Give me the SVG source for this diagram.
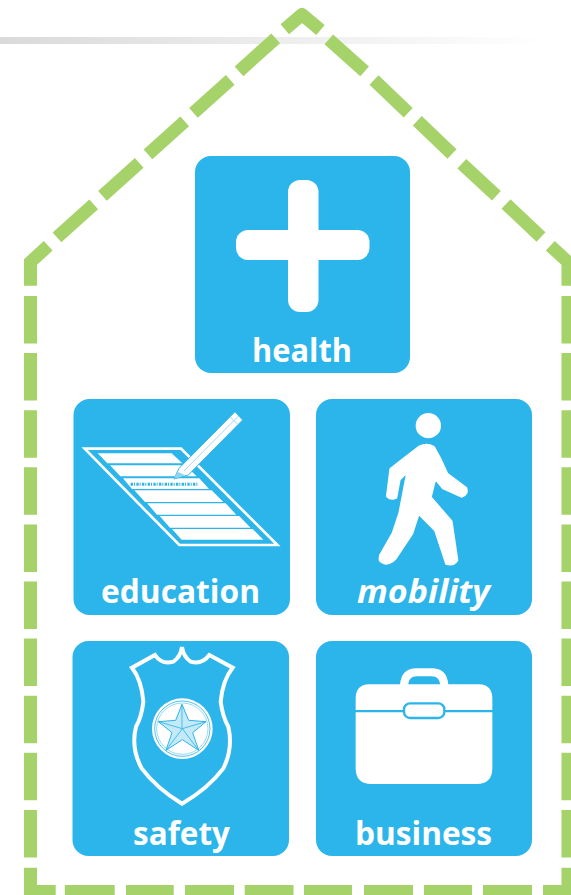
<svg xmlns="http://www.w3.org/2000/svg" width="571" height="895" viewBox="0 0 571 895">
<style>
.tile{fill:#2cb5ea}
.lbl{font-family:"Open Sans","Noto Sans",sans-serif;font-weight:700;fill:#fff}
.w{fill:#fff}
.dash{fill:none;stroke:#a6d26a;stroke-width:13;stroke-linejoin:miter}
.bl{fill:none;stroke:#2cb5ea}
</style>
<defs>
<linearGradient id="bar" x1="0" x2="1" y1="0" y2="0"><stop offset="0" stop-color="#dadada"/><stop offset="1" stop-color="#fff"/></linearGradient>
</defs>
<rect width="571" height="895" fill="#fff"/>
<rect id="top-bar" x="0" y="37" width="546" height="7" fill="url(#bar)"/>
<g id="house-outline">
<path class="dash" style="stroke-linejoin:round" d="M284.8 29.3L302 14.5L320.5 30"/>
<path class="dash" d="M275.7 38.3L239 71.3M230.2 79.8L193.5 112.8M184.7 121.3L148 154.3M139.2 162.8L102.5 195.8M93.7 204.3L57 237.3M48.2 245.8L30.5 262V285.7M328.8 39.3L364.6 71.3M374 80L408.2 112.7M417.3 120.7L452 154M461.8 163.7L496.4 195.7M506 204L541 237M550.3 245.7L568 262V285.7"/>
<path class="dash" stroke-dasharray="47.5 9.6" d="M30.5 296V858M568 296V858"/>
<path class="dash" d="M30.5 867.7V891.5H55.7M64.8 891.5H114.7M126 891.5H173.7M185 891.5H234M244.7 891.5H293.5M304 891.5H352M364 891.5H413M424 891.5H472M483 891.5H532M543 891.5H568V867.7"/>
</g>
<g id="health">
<rect class="tile" x="195" y="156" width="215" height="217" rx="16"/>
<rect class="w" x="288" y="180" width="30.500" height="132" rx="12"/>
<rect class="w" x="236" y="230" width="133.500" height="30" rx="12"/>
<text class="lbl" x="252" y="362" font-size="33" textLength="100" lengthAdjust="spacingAndGlyphs">health</text>
</g>
<g id="education">
<rect class="tile" x="73.500" y="399" width="216.500" height="216" rx="16"/>
<g transform="translate(60 390) scale(.33333)">
<path d="M74 176H363L652 465H358Z" fill="none" stroke="#fff" stroke-width="8"/>
<path class="w" d="M113 190H335L367 220H142ZM150 226H375.500L410 259H181ZM189 265H418L447 297H216ZM223 301H455L490 336H255ZM261.500 340H497L529 374H291ZM299 378H537.500L571.700 413H330ZM336 417H578L610 449H365Z"/>
<path class="bl" stroke-width="9" stroke-dasharray="7 3 3 4" d="M212 283H415"/>
<path d="M342 267L357 235L525 65L548 90L385 255Z" fill="#fff" stroke="#2cb5ea" stroke-width="3"/>
<path d="M342 267L352 245L375 255Z" fill="#8ed3f0"/>
<path stroke="#8ed3f0" fill="none" stroke-width="2.500" d="M372 243L535 78M510 80L533 103"/>
</g>
<text class="lbl" x="101" y="603" font-size="33" textLength="159" lengthAdjust="spacingAndGlyphs">education</text>
</g>
<g id="mobility">
<rect class="tile" x="316" y="399" width="216" height="216" rx="16"/>
<g transform="translate(305 390) scale(.33333)">
<circle class="w" cx="370" cy="107" r="38"/>
<path class="w" stroke="#fff" stroke-width="10" stroke-linejoin="round" d="M343 172Q365 160 385 172L405 208L425 252L482 295Q488 312 470 318L415 293L390 262L375 322L438 395L455 510Q445 525 425 520L392 420L340 368L320 430L270 505Q245 530 226 510Q225 495 232 488L265 430L285 370L310 240L282 268L272 322Q258 328 248 318L258 238L300 205Z"/>
</g>
<text class="lbl" x="357" y="603" font-size="33" font-style="italic" textLength="133" lengthAdjust="spacingAndGlyphs">mobility</text>
</g>
<g id="safety">
<rect class="tile" x="72.500" y="641" width="216.500" height="215" rx="16"/>
<g transform="translate(60 635) scale(.33333)">
<path fill="none" stroke="#fff" stroke-width="12" stroke-linejoin="miter" d="M366 36Q370 65 392 80Q425 90 448 60L518 98Q488 135 482 200Q488 245 505 275Q520 340 490 400Q445 460 366 506Q290 460 245 400Q212 340 228 275Q245 245 250 200Q245 135 216 98L285 60Q305 90 340 80Q362 65 366 36Z"/>
<circle class="w" cx="367" cy="281" r="91"/>
<circle class="bl" cx="367" cy="281" r="83" stroke-width="2.500"/>
<circle class="bl" cx="367" cy="281" r="77" stroke-width="1.500"/>
<path d="M366 208L386 256L438 260L398 293L416 346L367 314L318 346L336 293L295 260L347 256Z" fill="#c4e9f8" stroke="#2cb5ea" stroke-width="3"/>
<path class="bl" stroke-width="2.500" d="M366 208V281M438 260L367 281M416 346L367 281M318 346L367 281M295 260L367 281"/>
</g>
<text class="lbl" x="133" y="845" font-size="33" textLength="97" lengthAdjust="spacingAndGlyphs">safety</text>
</g>
<g id="business">
<rect class="tile" x="316" y="641" width="216" height="215" rx="16"/>
<g transform="translate(305 635) scale(.33333)">
<path fill="none" stroke="#fff" stroke-width="24" d="M297 155V150Q300 112 335 112H380Q415 112 418 150V155"/>
<path class="w" d="M192 148H522Q562 150 562 190V225H152V190Q152 150 192 148ZM152 232H562V400Q562 447 515 447H199Q152 447 152 400Z"/>
<rect x="297" y="205" width="121" height="44" rx="18" fill="#fff" stroke="#2cb5ea" stroke-width="7"/>
</g>
<text class="lbl" x="355" y="845" font-size="33" textLength="137" lengthAdjust="spacingAndGlyphs">business</text>
</g>
</svg>
